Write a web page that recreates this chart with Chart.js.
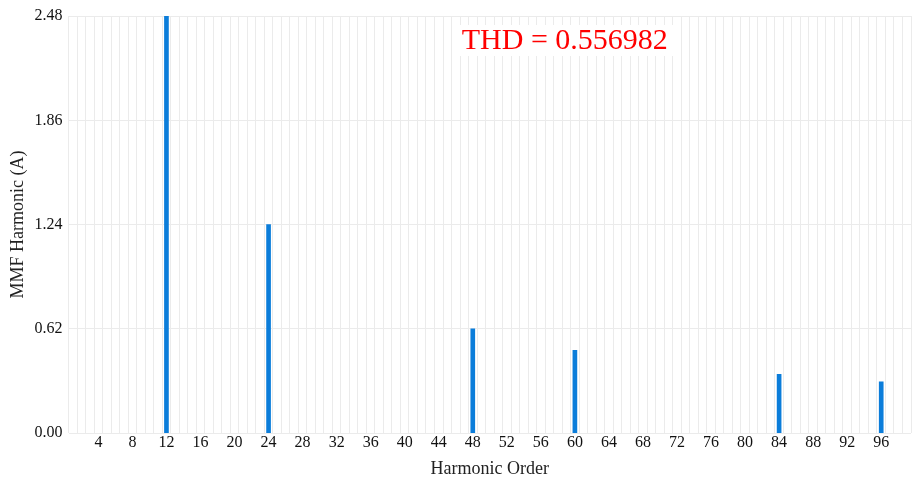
<!DOCTYPE html>
<html>
<head>
<meta charset="utf-8">
<script src="https://cdn.jsdelivr.net/npm/chart.js@4/dist/chart.umd.min.js"></script>
<style>
  html, body { margin: 0; padding: 0; background: #ffffff; }
  #wrap { width: 915px; height: 483px; }
</style>
</head>
<body>
<div id="wrap"><canvas id="mmf"></canvas></div>
<script>
// Harmonic orders shown on the axis
const harmonicOrders = [
  1, 2, 3, 4, 5, 6, 7, 8, 9, 10, 11, 12, 13, 14, 15, 16, 17, 18, 19, 20,
  21, 22, 23, 24, 25, 26, 27, 28, 29, 30, 31, 32, 33, 34, 35, 36, 37, 38, 39, 40,
  41, 42, 43, 44, 45, 46, 47, 48, 49, 50, 51, 52, 53, 54, 55, 56, 57, 58, 59, 60,
  61, 62, 63, 64, 65, 66, 67, 68, 69, 70, 71, 72, 73, 74, 75, 76, 77, 78, 79, 80,
  81, 82, 83, 84, 85, 86, 87, 88, 89, 90, 91, 92, 93, 94, 95, 96, 97, 98, 99
];
// Non-zero MMF harmonics (order, amplitude in A)
const presentOrders = [12, 24, 48, 60, 84, 96];
const amplitudes    = [2.48, 1.24, 0.62, 0.493, 0.35, 0.306];
// Y axis ticks
const yTicks = [0.00, 0.62, 1.24, 1.86, 2.48];
const thdValue = 0.556982;

// absent harmonics are left empty so no bar is drawn for them
const series = harmonicOrders.map(h => {
  const i = presentOrders.indexOf(h);
  return i >= 0 ? amplitudes[i] : null;
});

const serif = "'Liberation Serif', 'Times New Roman', serif";

const thdLabel = {
  id: 'thdLabel',
  afterDraw(chart) {
    const { ctx, chartArea } = chart;
    const text = 'THD = ' + thdValue.toFixed(6);
    ctx.save();
    ctx.font = "30px " + serif;
    const w = ctx.measureText(text).width;
    const cx = chartArea.left + (chartArea.right - chartArea.left) * 0.589;
    const cy = chartArea.top + 25;
    ctx.fillStyle = '#ffffff';
    ctx.fillRect(cx - w / 2 - 8, cy - 16, w + 16, 31);
    ctx.fillStyle = '#ff0000';
    ctx.textAlign = 'center';
    ctx.textBaseline = 'middle';
    ctx.fillText(text, cx, cy);
    ctx.restore();
  }
};

new Chart(document.getElementById('mmf'), {
  type: 'bar',
  data: {
    labels: harmonicOrders,
    datasets: [{
      data: series,
      backgroundColor: '#0b7dda',
      borderWidth: 0,
      barThickness: 4
    }]
  },
  options: {
    responsive: true,
    maintainAspectRatio: false,
    animation: false,
    layout: { padding: { top: 16, right: 4, left: 7, bottom: 3 } },
    plugins: {
      legend: { display: false },
      tooltip: { enabled: false }
    },
    scales: {
      x: {
        offset: true,
        grid: { offset: true, color: '#ebebeb', lineWidth: 1, drawTicks: false },
        border: { display: false },
        ticks: {
          autoSkip: false,
          maxRotation: 0,
          padding: 0,
          color: '#111111',
          font: { family: serif, size: 16 },
          callback: function (val, idx) {
            const h = harmonicOrders[idx];
            return h % 4 === 0 ? String(h) : '';
          }
        },
        title: {
          display: true,
          text: 'Harmonic Order',
          color: '#222222',
          font: { family: serif, size: 18 },
          padding: { top: 6, bottom: 0 }
        }
      },
      y: {
        min: 0,
        max: 2.48,
        afterBuildTicks: axis => { axis.ticks = yTicks.map(v => ({ value: v })); },
        grid: { color: '#ebebeb', lineWidth: 1, drawTicks: false },
        border: { display: false },
        ticks: {
          padding: 6,
          color: '#111111',
          font: { family: serif, size: 16 },
          callback: v => Number(v).toFixed(2)
        },
        title: {
          display: true,
          text: 'MMF Harmonic (A)',
          color: '#222222',
          font: { family: serif, size: 18 },
          padding: { top: 0, bottom: 0 }
        }
      }
    }
  },
  plugins: [thdLabel]
});
</script>
</body>
</html>
